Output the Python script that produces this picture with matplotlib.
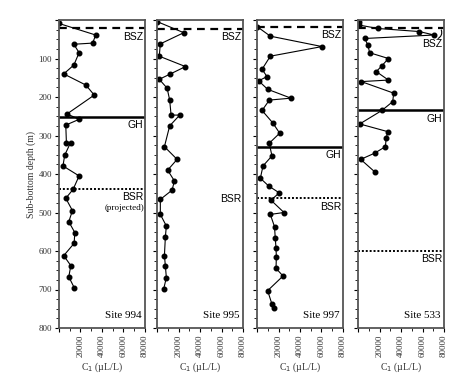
import matplotlib.pyplot as plt

# C1 (uL/L) vs depth (m) for each site
c1_994 = [0, 34100, 31300, 13800, 18700, 13800, 4400, 25000, 32800, 7500, 18700, 6300,
          6900, 10700, 5300, 3700, 18700, 13100, 6300, 12500, 9100, 14700, 14100, 4400,
          11000, 9100, 14100]
d_994 = [9, 39, 60, 63, 85, 117, 140, 169, 195, 244, 258, 273,
         319, 319, 351, 379, 405, 440, 463, 495, 524, 552, 580, 612,
         638, 667, 695]

c1_995 = [0, 24900, 3100, 2100, 26500, 11800, 2100, 9400, 11800, 13100, 21100, 11800,
          6900, 18700, 9900, 16200, 14000, 3100, 3100, 8700, 7800, 6900, 7800, 8700, 6200]
d_995 = [4, 33, 62, 94, 121, 141, 154, 177, 208, 247, 247, 275,
         329, 362, 390, 418, 442, 466, 505, 535, 563, 612, 639, 669, 699]

c1_997 = [0, 12400, 60500, 12400, 4700, 9300, 1500, 9900, 31600, 11500, 4700, 14600,
          21100, 11400, 13900, 5600, 3100, 10800, 20700, 13000, 25100, 12400, 16300,
          17000, 17700, 18000, 17700, 24200, 9900, 13900, 15400]
d_997 = [17, 42, 69, 94, 128, 147, 158, 180, 203, 208, 235, 267,
         294, 320, 353, 379, 411, 431, 449, 468, 500, 505, 537,
         567, 593, 615, 645, 665, 703, 738, 749]

c1_533 = [700, 700, 18500, 57000, 70800, 6200, 9200, 10800, 28300, 22200, 17000, 28300,
          3100, 33200, 32300, 22200, 1600, 27700, 26200, 25500, 15400, 2500, 15400]
d_533 = [6, 13, 22, 30, 39, 48, 65, 85, 100, 119, 134, 156,
         160, 190, 212, 235, 270, 290, 307, 329, 346, 362, 394]

sites = ['Site 994', 'Site 995', 'Site 997', 'Site 533']
c1_all = [c1_994, c1_995, c1_997, c1_533]
d_all = [d_994, d_995, d_997, d_533]
bsz = [22, 23, 19, 22]
gh = [251, None, 329, 235]
bsr = [439, None, 463, 600]
bsr_label = [446, 451, 472, 607]

serif = 'Liberation Serif'
sans = 'Liberation Sans'
frame = '#555555'

fig = plt.figure(figsize=(4.7, 3.78), dpi=100)
lefts = [59, 157, 257, 358]
W, H = 470.0, 378.0
axes = []
for i in range(4):
    ax = fig.add_axes([lefts[i] / W, (H - 328) / H, 86 / W, 308 / H])
    axes.append(ax)
    ax.plot(c1_all[i], d_all[i], '-o', color='black', lw=0.8, ms=3.3)
    ax.set_xlim(0, 80000)
    ax.set_ylim(800, 0)
    ax.set_xticks([0, 20000, 40000, 60000, 80000])
    ax.set_xticklabels(['', '20000', '40000', '60000', '80000'], rotation=90,
                       fontsize=6.5, family=serif, color='#333333')
    ax.set_xticks(range(0, 80001, 10000), minor=True)
    ax.set_yticks(range(0, 801, 100))
    ax.set_yticks(range(0, 801, 25), minor=True)
    ax.tick_params(which='major', direction='out', length=3, width=0.8, pad=2)
    ax.tick_params(which='minor', direction='out', length=2, width=0.6)
    if i == 0:
        ax.set_yticklabels(['', '100', '200', '300', '400', '500', '600', '700', '800'],
                           fontsize=6.5, family=serif, color='#333333')
        ax.set_ylabel('Sub-bottom depth (m)', fontsize=7, family=serif, color='#333333',
                      labelpad=2)
    else:
        ax.set_yticklabels([])
    for s in ax.spines.values():
        s.set_color(frame)
        s.set_linewidth(1.3)
    ax.set_xlabel('C$_1$ (\u00b5L/L)', fontsize=7, family=serif, color='#333333',
                  labelpad=2)
    ax.text(0.96, 0.025, sites[i], transform=ax.transAxes, ha='right', va='bottom',
            fontsize=8, family=serif)

    ax.axhline(bsz[i], color='black', lw=1.6, ls=(0, (3.5, 2.5)))
    if gh[i] is not None:
        ax.axhline(gh[i], color='black', lw=1.8)
        ax.text(78500, gh[i] + 8, 'GH', ha='right', va='top', fontsize=7.5, family=sans)
    if bsr[i] is not None:
        ax.axhline(bsr[i], color='black', lw=1.4, ls=(0, (1, 1)))
    ax.text(78500, bsr_label[i], 'BSR', ha='right', va='top', fontsize=7.5, family=sans)
    if i < 3:
        ax.text(78500, bsz[i] + 8, 'BSZ', ha='right', va='top', fontsize=7.5, family=sans)

axes[0].text(79000, 478, '(projected)', ha='right', va='top', fontsize=6.5, family=serif)
axes[3].text(78500, 50, 'BSZ', ha='right', va='top', fontsize=7.5, family=sans)
axes[3].annotate('', xy=(77500, 26), xytext=(74500, 48),
                 arrowprops=dict(arrowstyle='-', lw=0.8, color='black',
                                 shrinkA=0, shrinkB=0,
                                 connectionstyle='arc3,rad=0.4'))

fig.savefig('out.png', dpi=100)
